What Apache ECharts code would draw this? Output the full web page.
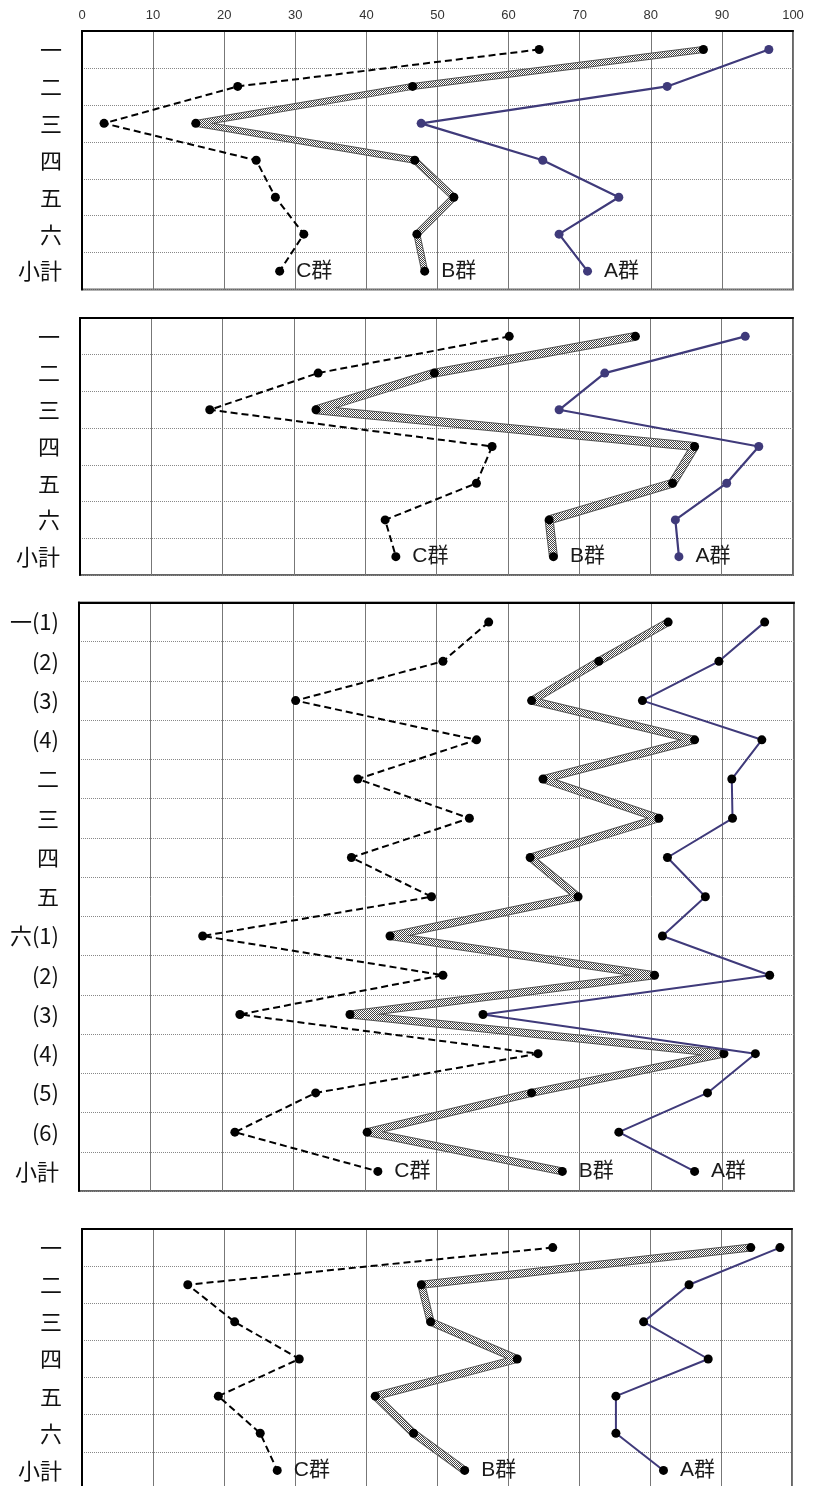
<!DOCTYPE html>
<html><head><meta charset="utf-8">
<script src="https://cdn.jsdelivr.net/npm/echarts@6/dist/echarts.min.js"></script>
<style>html,body{margin:0;padding:0;background:#fff;overflow:hidden}#c{width:814px;height:1490px}</style>
</head><body><div id="c"></div>
<script>
// ---- categories ----
const cats6 = ['一','二','三','四','五','六','小計'];
const cats14 = ['一(1)','(2)','(3)','(4)','二','三','四','五','六(1)','(2)','(3)','(4)','(5)','(6)','小計'];
// ---- panel 1 ----
const p1A = [96.6, 82.3, 47.7, 64.8, 75.5, 67.1, 71.1];
const p1B = [87.4, 46.5, 16.0, 46.8, 52.3, 47.1, 48.2];
const p1C = [64.3, 21.9, 3.1, 24.5, 27.2, 31.2, 27.8];
// ---- panel 2 ----
const p2A = [93.3, 73.6, 67.2, 95.2, 90.7, 83.5, 84.0];
const p2B = [77.9, 49.7, 33.1, 86.2, 83.1, 65.8, 66.4];
const p2C = [60.2, 33.4, 18.2, 57.8, 55.6, 42.8, 44.3];
// ---- panel 3 ----
const p3A = [95.9, 89.5, 78.8, 95.5, 91.3, 91.4, 82.3, 87.6, 81.6, 96.6, 56.5, 94.6, 87.9, 75.5, 86.1];
const p3B = [82.4, 72.7, 63.3, 86.1, 64.9, 81.1, 63.1, 69.8, 43.5, 80.5, 37.9, 90.2, 63.3, 40.3, 67.6];
const p3C = [57.3, 50.9, 30.3, 55.6, 39.0, 54.6, 38.1, 49.3, 17.3, 50.9, 22.5, 64.2, 33.1, 21.8, 41.8];
// ---- panel 4 ----
const p4A = [98.3, 85.5, 79.1, 88.2, 75.2, 75.2, 81.9];
const p4B = [94.2, 47.8, 49.1, 61.3, 41.3, 46.7, 53.9];
const p4C = [66.3, 14.9, 21.5, 30.6, 19.2, 25.1, 27.5];

const panels = [
  {cats: cats6, A: p1A, B: p1B, C: p1C, grid:{left:82,right:21,top:31,height:258.6}, showX:true, aMark:'#3f3a7a', bW:6, aW:2.2},
  {cats: cats6, A: p2A, B: p2B, C: p2C, grid:{left:80,right:21,top:318,height:257}, showX:false, aMark:'#3f3a7a', bW:8, aW:2.2},
  {cats: cats14, A: p3A, B: p3B, C: p3C, grid:{left:79,right:20,top:602.5,height:588.5}, showX:false, aMark:'#000', bW:7, aW:2},
  {cats: cats6, A: p4A, B: p4B, C: p4C, grid:{left:82,right:22,top:1229,height:260}, showX:false, aMark:'#000', bW:7, aW:2}
];

function checker(){
  const c=document.createElement('canvas'); c.width=2; c.height=2;
  const x=c.getContext('2d'); x.fillStyle='#ffffff'; x.fillRect(0,0,2,2);
  x.fillStyle='#444444'; x.fillRect(0,0,1,1); x.fillRect(1,1,1,1);
  return c;
}
const pat = {image: checker(), repeat: 'repeat'};
const purple = '#3f3a7a';
const labelFont = {fontSize:21, color:'#1a1a1a', fontFamily:'Liberation Sans, "Noto Sans CJK JP", sans-serif'};

function toData(arr, name){
  return arr.map((v,i)=>{
    const item = {value:[v,i]};
    if(name && i===arr.length-1){
      item.label = Object.assign({show:true, position:'right', distance:12, formatter:name}, labelFont);
    }
    return item;
  });
}

const grids=[], xAxes=[], yAxes=[], series=[];
panels.forEach((p,gi)=>{
  grids.push(Object.assign({show:true, borderColor:'#666', borderWidth:2, backgroundColor:'#fff'}, p.grid));
  xAxes.push({type:'value', gridIndex:gi, min:0, max:100, interval:10, position:'top',
    axisLine:{show:true, lineStyle:{color:'#000', width:2}}, axisTick:{show:false},
    axisLabel:{show:p.showX, color:'#333', fontSize:13, margin:9, fontFamily:'Liberation Sans, sans-serif'},
    splitLine:{show:true, lineStyle:{color:'#777', width:1}}});
  yAxes.push({type:'category', gridIndex:gi, data:p.cats, inverse:true, boundaryGap:true,
    axisLine:{show:true, lineStyle:{color:'#000', width:2}}, axisTick:{show:false},
    axisLabel:{color:'#111', fontSize:22, margin:20, fontFamily:'"Noto Sans CJK JP", sans-serif', interval:0},
    splitLine:{show:true, lineStyle:{color:'#888', width:1, type:'dotted'}}});
  series.push({type:'line', xAxisIndex:gi, yAxisIndex:gi, data:toData(p.C,'C群'), symbol:'circle', symbolSize:9,
    itemStyle:{color:'#000'}, lineStyle:{color:'#000', width:2, type:[7,4]}, z:4, animation:false});
  series.push({type:'line', xAxisIndex:gi, yAxisIndex:gi, data:toData(p.B,null), showSymbol:false, silent:true,
    lineStyle:{color:'#555', width:p.bW+1}, z:2, animation:false});
  series.push({type:'line', xAxisIndex:gi, yAxisIndex:gi, data:toData(p.B,'B群'), symbol:'circle', symbolSize:9,
    itemStyle:{color:'#000'}, lineStyle:{color:pat, width:p.bW-1}, z:3, animation:false});
  series.push({type:'line', xAxisIndex:gi, yAxisIndex:gi, data:toData(p.A,'A群'), symbol:'circle', symbolSize:9,
    itemStyle:{color:p.aMark}, lineStyle:{color:purple, width:p.aW}, z:5, animation:false});
});

const chart = echarts.init(document.getElementById('c'), null, {renderer:'canvas'});
chart.setOption({animation:false, grid:grids, xAxis:xAxes, yAxis:yAxes, series:series});
</script></body></html>
